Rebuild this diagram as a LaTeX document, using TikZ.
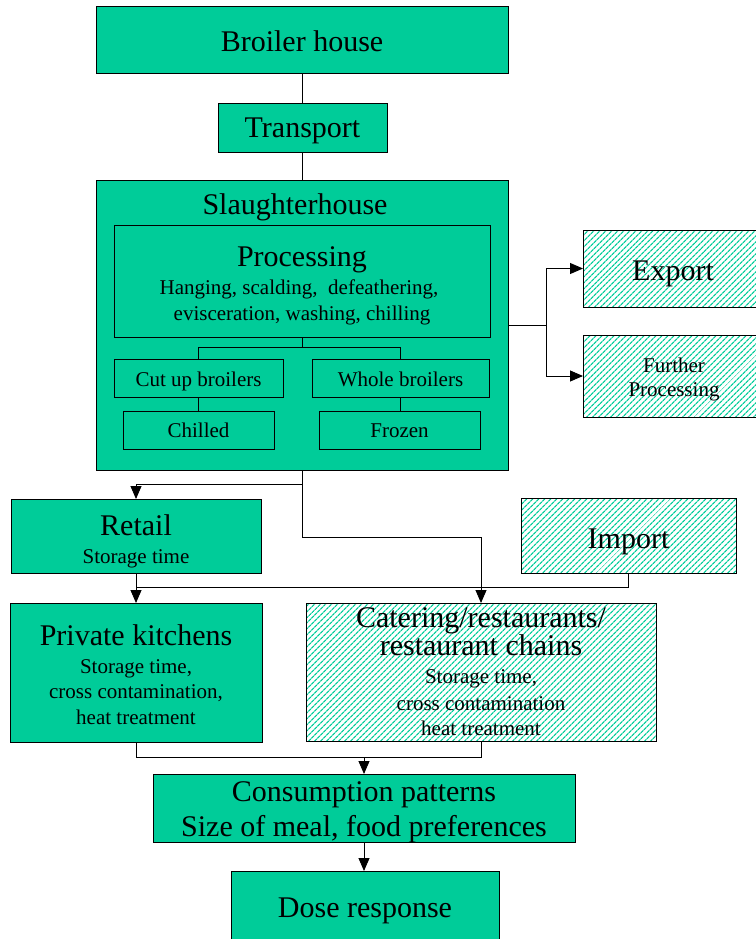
\documentclass[tikz,border=0pt]{standalone}
\usepackage{fontspec}
\setmainfont{Liberation Serif}
\usetikzlibrary{arrows.meta,patterns.meta}
\definecolor{tealc}{RGB}{0,204,153}
\tikzset{
  box/.style={draw=black, line width=1pt, fill=tealc, inner sep=0pt, outer sep=0pt},
  hatchbox/.style={draw=black, line width=1pt, inner sep=0pt, outer sep=0pt,
    pattern={Lines[angle=45,distance=4pt,line width=1.3pt]}, pattern color=tealc},
  big/.style={anchor=base, inner sep=0pt, font=\fontsize{30}{34}\selectfont},
  small/.style={anchor=base, inner sep=0pt, font=\fontsize{21}{24}\selectfont},
  conn/.style={draw=black, line width=0.9pt},
  arr/.style={conn, -{Triangle[length=13pt,width=11pt]}}
}
\begin{document}
\begin{tikzpicture}[x=1pt,y=-1pt]
\useasboundingbox (0,0) rectangle (755,939);
% boxes
\node[box, minimum width=412, minimum height=67] (broiler) at (302,40.5) {};
\node[box, minimum width=169, minimum height=48] (transport) at (302.5,128) {};
\node[box, minimum width=412, minimum height=290] (slaughter) at (302,325) {};
\node[box, minimum width=376, minimum height=112] (processing) at (302,281) {};
\node[box, minimum width=169, minimum height=38] (cutup) at (198.5,378) {};
\node[box, minimum width=177, minimum height=38] (whole) at (400.5,378) {};
\node[box, minimum width=151, minimum height=38] (chilled) at (198.5,430) {};
\node[box, minimum width=161, minimum height=38] (frozen) at (399.5,430) {};
\node[hatchbox, minimum width=176, minimum height=77] (export) at (671,268.5) {};
\node[hatchbox, minimum width=176, minimum height=82] (further) at (671,376) {};
\node[box, minimum width=250, minimum height=74] (retail) at (136,536) {};
\node[hatchbox, minimum width=215, minimum height=75] (import) at (628.5,535.5) {};
\node[box, minimum width=252, minimum height=139] (kitchens) at (136,672.5) {};
\node[hatchbox, minimum width=350, minimum height=138] (catering) at (481,672) {};
\node[box, minimum width=422, minimum height=68] (consumption) at (364,808) {};
\node[box, minimum width=268, minimum height=90] (dose) at (365,916) {};
% texts
\node[big] (tbroiler) at (302,52) {Broiler house};
\node[big] (ttransport) at (302.5,138) {Transport};
\node[big] (tslaughter) at (295,214) {Slaughterhouse};
\node[big] (tprocessing) at (302,266) {Processing};
\node[small] (tproc1) at (299,294) {Hanging, scalding,\ \ defeathering,};
\node[small] (tproc2) at (302,320) {evisceration, washing, chilling};
\node[small] (tcutup) at (198.5,386) {Cut up broilers};
\node[small] (twhole) at (400.5,386) {Whole broilers};
\node[small] (tchilled) at (198.5,437) {Chilled};
\node[small] (tfrozen) at (399.5,437) {Frozen};
\node[big] (texport) at (673,280) {Export};
\node[small] (tfurther1) at (674,372) {Further};
\node[small] (tfurther2) at (674,396) {Processing};
\node[big] (tretail) at (136,535) {Retail};
\node[small] (tretail2) at (136,563) {Storage time};
\node[big] (timport) at (628.5,548) {Import};
\node[big] (tkitchens) at (136,645) {Private kitchens};
\node[small] (tkitchens1) at (136,673) {Storage time,};
\node[small] (tkitchens2) at (136,698) {cross contamination,};
\node[small] (tkitchens3) at (136,724) {heat treatment};
\node[big] (tcatering1) at (481,627) {Catering/restaurants/};
\node[big] (tcatering2) at (481,655) {restaurant chains};
\node[small] (tcatering3) at (481,683) {Storage time,};
\node[small] (tcatering4) at (481,710) {cross contamination};
\node[small] (tcatering5) at (481,735) {heat treatment};
\node[big] (tcons1) at (364,801) {Consumption patterns};
\node[big] (tcons2) at (364,836) {Size of meal, food preferences};
\node[big] (tdose) at (365,917) {Dose response};
% junctions
\coordinate (pj) at (302,347);
\coordinate (ej) at (546,325);
\coordinate (sb) at (302,484);
\coordinate (sc) at (302,537);
\coordinate (rj) at (136,587);
\coordinate (kb) at (136,757);
\coordinate (cb) at (481,757);
\coordinate (cj) at (364,757);
% connectors
\draw[conn] (broiler.south) -- (transport.south |- broiler.south) -- (transport.north);
\draw[conn] (transport.south) -- (transport.south |- slaughter.north);
\draw[conn] (processing.south) -- (pj) -| (cutup.north);
\draw[conn] (pj) -| (whole.north);
\draw[conn] (cutup.south) -- (chilled.north);
\draw[conn] (whole.south) -- (whole.south |- frozen.north);
\draw[conn] (slaughter.east) -- (ej);
\draw[arr] (ej) |- (export.west);
\draw[arr] (ej) |- (further.west);
\draw[arr] (slaughter.south) -- (sb) -| (retail.north);
\draw[arr] (sb) -- (sc) -| (catering.north);
\draw[arr] (retail.south) -- (kitchens.north);
\draw[conn] (import.south) |- (rj);
\draw[conn] (kitchens.south) -- (kb) -- (cb) -- (catering.south);
\draw[arr] (cj) -- (consumption.north);
\draw[arr] (consumption.south) -- (consumption.south |- dose.north);
\end{tikzpicture}
\end{document}
